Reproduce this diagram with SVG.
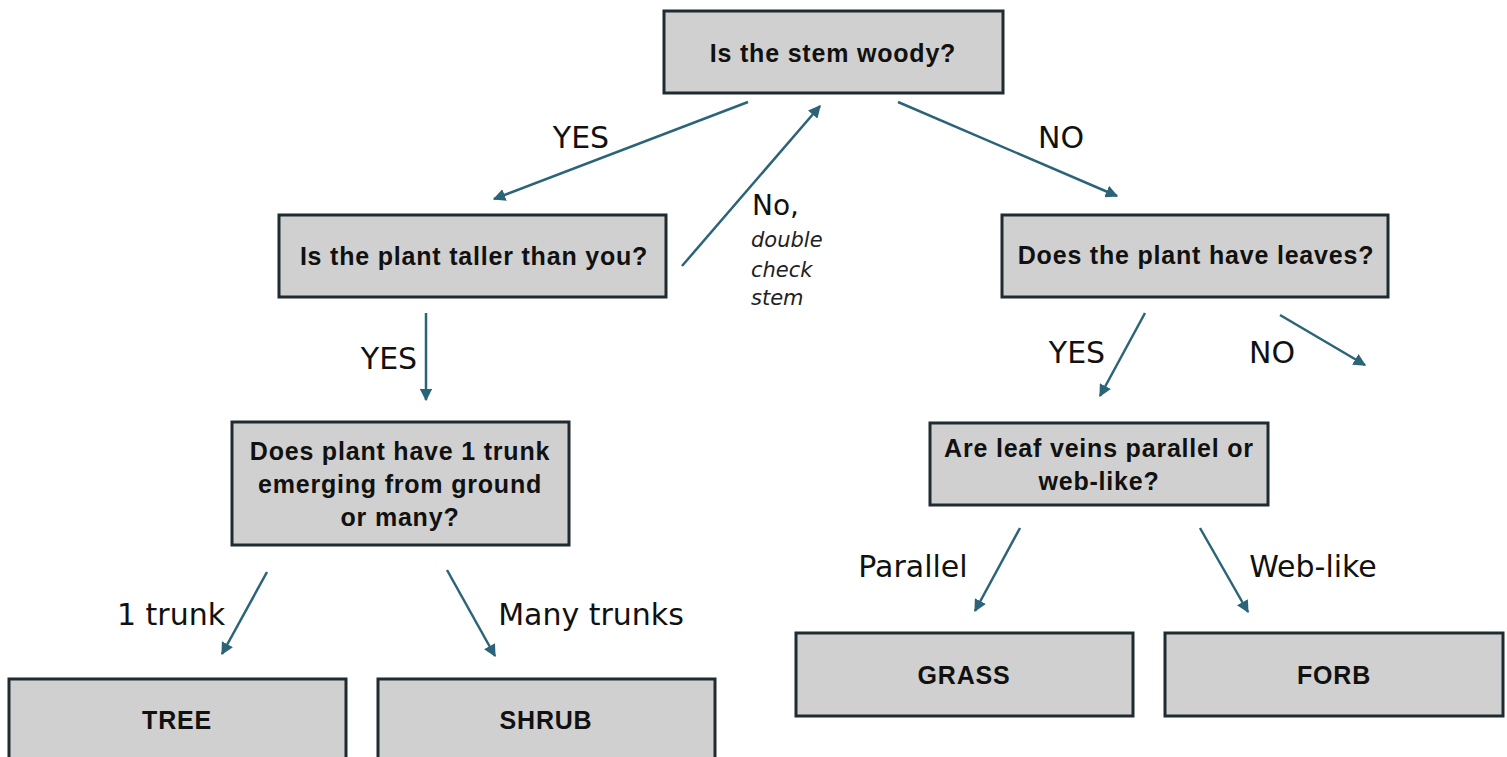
<svg xmlns="http://www.w3.org/2000/svg" width="1507" height="757" viewBox="0 0 1507 757">
<defs>
<marker id="ah" viewBox="0 0 10 10" refX="9" refY="5" markerWidth="5" markerHeight="5" orient="auto" markerUnits="strokeWidth">
<path d="M0,0 L10,5 L0,10 z" fill="#2b6479"/>
</marker>
<style>
.box{fill:#d0d0d0;stroke:#1e2b30;stroke-width:3}
.bt{font-family:"Liberation Sans",Arial,sans-serif;font-weight:bold;font-size:25px;letter-spacing:0.8px;fill:#111;text-anchor:middle}
.lb{font-family:"DejaVu Sans","Liberation Sans",sans-serif;font-size:30px;fill:#111;text-anchor:middle}
.it{font-family:"DejaVu Sans","Liberation Sans",sans-serif;font-style:italic;font-size:21px;fill:#222}
.cn{stroke:#2b6479;stroke-width:2.5;fill:none;marker-end:url(#ah)}
</style>
</defs>
<rect width="1507" height="757" fill="#ffffff"/>
<g id="connectors">
<line class="cn" x1="748" y1="102" x2="494" y2="199"/>
<line class="cn" x1="682" y1="266" x2="820" y2="106"/>
<line class="cn" x1="898" y1="102" x2="1117" y2="196"/>
<line class="cn" x1="426" y1="313" x2="426" y2="400"/>
<line class="cn" x1="1145" y1="313" x2="1100" y2="396"/>
<line class="cn" x1="1280" y1="315" x2="1365" y2="365"/>
<line class="cn" x1="267" y1="572" x2="222" y2="654"/>
<line class="cn" x1="447" y1="570" x2="495" y2="656"/>
<line class="cn" x1="1020" y1="528" x2="975" y2="611"/>
<line class="cn" x1="1200" y1="528" x2="1248" y2="612"/>
</g>
<g id="labels">
<text class="lb" x="581" y="148">YES</text>
<text class="lb" x="1061" y="148">NO</text>
<text class="lb" x="752" y="215" style="font-size:28px;text-anchor:start">No,</text>
<text class="it" x="751" y="247">double</text>
<text class="it" x="751" y="277">check</text>
<text class="it" x="751" y="305">stem</text>
<text class="lb" x="389" y="369">YES</text>
<text class="lb" x="1077" y="363">YES</text>
<text class="lb" x="1272" y="363">NO</text>
<text class="lb" x="171" y="625">1 trunk</text>
<text class="lb" x="591" y="625">Many trunks</text>
<text class="lb" x="913" y="577">Parallel</text>
<text class="lb" x="1313" y="577">Web-like</text>
</g>
<g id="n-stem">
<rect class="box" x="664" y="11" width="339" height="82"/>
<text class="bt" x="833" y="62">Is the stem woody?</text>
</g>
<g id="n-taller">
<rect class="box" x="279" y="215" width="387" height="82"/>
<text class="bt" x="474" y="265">Is the plant taller than you?</text>
</g>
<g id="n-leaves">
<rect class="box" x="1002" y="215" width="386" height="82"/>
<text class="bt" x="1196" y="264">Does the plant have leaves?</text>
</g>
<g id="n-trunk">
<rect class="box" x="232" y="422" width="337" height="123"/>
<text class="bt" x="400" y="460">Does plant have 1 trunk</text>
<text class="bt" x="400" y="493">emerging from ground</text>
<text class="bt" x="400" y="526">or many?</text>
</g>
<g id="n-veins">
<rect class="box" x="930" y="423" width="338" height="82"/>
<text class="bt" x="1099" y="457">Are leaf veins parallel or</text>
<text class="bt" x="1099" y="490">web-like?</text>
</g>
<g id="n-grass">
<rect class="box" x="796" y="633" width="337" height="83"/>
<text class="bt" x="964" y="684">GRASS</text>
</g>
<g id="n-forb">
<rect class="box" x="1165" y="633" width="338" height="83"/>
<text class="bt" x="1334" y="684">FORB</text>
</g>
<g id="n-tree">
<rect class="box" x="9" y="679" width="337" height="90"/>
<text class="bt" x="177" y="729">TREE</text>
</g>
<g id="n-shrub">
<rect class="box" x="378" y="679" width="337" height="90"/>
<text class="bt" x="546" y="729">SHRUB</text>
</g>
</svg>
